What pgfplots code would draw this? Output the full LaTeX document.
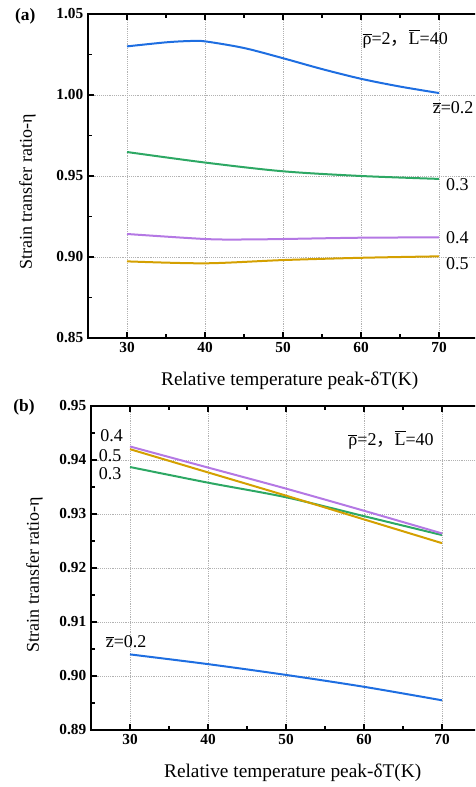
\documentclass[border=0pt]{standalone}
\usepackage{pgfplots}
\pgfplotsset{compat=1.18}
\usepackage{fontspec}
\setmainfont{Liberation Serif}
\newfontfamily\cjk{Noto Sans CJK SC}
\definecolor{cblue}{RGB}{30,110,225}
\definecolor{cgreen}{RGB}{45,168,100}
\definecolor{cpurple}{RGB}{180,120,228}
\definecolor{cgold}{RGB}{212,160,0}
\newcommand{\ovl}[1]{$\overline{\mbox{#1}}$}
\newcommand{\params}{\ovl{ρ}=2{\cjk ，}\ovl{L}=40}
\pgfplotsset{
  myaxis/.style={
    scale only axis, width=292.5pt, height=243pt,
    xmin=25, xmax=75, xtick={30,40,50,60,70}, minor x tick num=1,
    minor y tick num=1,
    tick align=inside, xtick pos=both, ytick pos=left,
    axis line style={line width=1.1pt},
    every tick/.style={black, line width=0.9pt},
    major tick length=4.5pt, minor tick length=3pt,
    grid=major, major grid style={densely dotted, gray!60, line width=0.6pt},
    ticklabel style={font=\fontsize{11.5}{13}\selectfont\bfseries},
    /pgf/number format/assume math mode=true,
    yticklabel style={/pgf/number format/.cd, fixed, fixed zerofill, precision=2},
    xlabel={Relative temperature peak-δT(K)},
    ylabel={Strain transfer ratio-η},
    xlabel style={font=\fontsize{14.5}{16}\selectfont, yshift=-7pt, xshift=5pt},
    ylabel style={font=\fontsize{13.5}{15}\selectfont},
    clip=false,
    every axis plot/.append style={smooth, line width=1.5pt},
  }
}
\begin{document}
\begin{tikzpicture}
\path[use as bounding box, clip] (0,0) rectangle (356.25pt,590.25pt);
% panel (a)
\begin{axis}[myaxis, at={(66pt,336.75pt)}, anchor=south west,
  ymin=0.85, ymax=1.05, ytick={0.85,0.90,0.95,1.00,1.05},
  ylabel style={at={(axis description cs:-0.122,0.45)}}]
\addplot[cblue] coordinates {(30,1.0300) (35,1.0325) (38,1.0333) (40,1.0331) (45,1.0290) (50,1.0227) (55,1.0160) (60,1.0100) (65,1.0052) (70,1.0012)};
\addplot[cgreen] coordinates {(30,0.9648) (40,0.9583) (50,0.9529) (60,0.9500) (70,0.9482)};
\addplot[cpurple] coordinates {(30,0.9142) (40,0.9111) (45,0.9108) (50,0.9111) (60,0.9119) (70,0.9121)};
\addplot[cgold] coordinates {(30,0.8973) (40,0.8961) (50,0.8981) (60,0.8995) (70,0.9004)};
\node[anchor=west, font=\fontsize{13.5}{15}\selectfont] at (axis cs:59.6,1.0346) {\params};
\node[anchor=west, font=\fontsize{13.5}{15}\selectfont] at (axis cs:68.6,0.9920) {\ovl{z}=0.2};
\node[anchor=west, font=\fontsize{13.5}{15}\selectfont] at (axis cs:70.3,0.9445) {0.3};
\node[anchor=west, font=\fontsize{13.5}{15}\selectfont] at (axis cs:70.3,0.9121) {0.4};
\node[anchor=west, font=\fontsize{13.5}{15}\selectfont] at (axis cs:70.3,0.8960) {0.5};
\end{axis}
% panel (b)
\begin{axis}[myaxis, at={(68.25pt,42.75pt)}, anchor=south west,
  ymin=0.89, ymax=0.95, ytick={0.89,0.90,...,0.95},
  ylabel style={at={(axis description cs:-0.112,0.48)}}]
\addplot[cgreen] coordinates {(30,0.9387) (40,0.9358) (50,0.9331) (60,0.9296) (70,0.9261)};
\addplot[cgold] coordinates {(30,0.9420) (40,0.9377) (50,0.9334) (60,0.9290) (70,0.9246)};
\addplot[cpurple] coordinates {(30,0.9425) (40,0.9386) (50,0.9347) (60,0.9306) (70,0.9264)};
\addplot[cblue] coordinates {(30,0.9040) (40,0.9022) (50,0.9002) (60,0.8980) (70,0.8955)};
\node[anchor=west, font=\fontsize{13.5}{15}\selectfont] at (axis cs:57.4,0.9437) {\params};
\node[anchor=east, font=\fontsize{13.5}{15}\selectfont] at (axis cs:29.7,0.9445) {0.4};
\node[anchor=east, font=\fontsize{13.5}{15}\selectfont] at (axis cs:29.5,0.9408) {0.5};
\node[anchor=east, font=\fontsize{13.5}{15}\selectfont] at (axis cs:29.5,0.9375) {0.3};
\node[anchor=west, font=\fontsize{13.5}{15}\selectfont] at (axis cs:26.3,0.9063) {\ovl{z}=0.2};
\end{axis}
\node[font=\fontsize{13}{15}\selectfont\bfseries] at (19pt,578pt) {(a)};
\node[font=\fontsize{13}{15}\selectfont\bfseries] at (18pt,284.5pt) {(b)};
\end{tikzpicture}
\end{document}
